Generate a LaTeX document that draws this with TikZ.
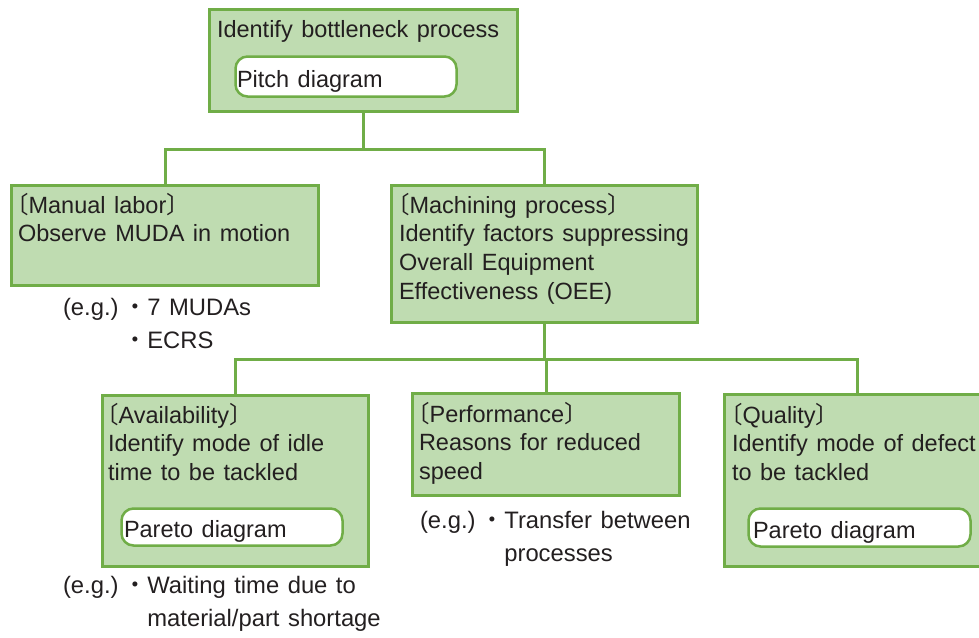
\documentclass[tikz,border=0pt]{standalone}
\usepackage{fontspec}
\setmainfont{Liberation Sans}
\newfontfamily\cjk{Noto Sans CJK JP}
\definecolor{boxfill}{RGB}{191,220,177}
\definecolor{boxline}{RGB}{112,173,71}
\definecolor{inktext}{RGB}{35,31,32}
% full-width brackets and bullet taken from the CJK face
\newcommand\obr{\smash{\cjk\kern-0.55em〔}}
\newcommand\cbr{\smash{\cjk〕}}
\newcommand\egdot{\kern5pt\smash{\cjk ・}}
\newcommand\tstrut{\rule{0pt}{18pt}}
\newskip\widespace
\widespace=8.5pt

\begin{document}
\begin{tikzpicture}[x=1pt,y=-1pt,
  every node/.style={inner sep=0pt, outer sep=0pt},
  stagebox/.style={draw=boxline, fill=boxfill, line width=3pt, anchor=north west},
  toolbox/.style={draw=boxline, fill=white, line width=2.5pt, rounded corners=12pt, anchor=north west},
  boxtext/.style={anchor=north west, align=left, text=inktext, font=\fontsize{23.5}{28.7}\selectfont,
    execute at begin node={\spaceskip=\widespace}},
  egtext/.style={anchor=north west, align=left, text=inktext, font=\fontsize{23.8}{33}\selectfont,
    execute at begin node={\spaceskip=\widespace}},
  linkline/.style={draw=boxline, line width=3pt}]
\useasboundingbox (0,0) rectangle (979,637);

% boxes
\node[stagebox, minimum width=308pt, minimum height=102pt] (top) at (209.5,9.5) {};
\node[toolbox, minimum width=221pt, minimum height=40pt] (pitch) at (235.5,56.5) {};
\node[stagebox, minimum width=307pt, minimum height=100pt] (manual) at (11.5,185.5) {};
\node[stagebox, minimum width=306pt, minimum height=137pt] (mach) at (391.5,185.5) {};
\node[stagebox, minimum width=266pt, minimum height=171pt] (avail) at (102.5,395.5) {};
\node[toolbox, minimum width=221pt, minimum height=37pt] (availtool) at (121.5,508.5) {};
\node[stagebox, minimum width=267pt, minimum height=102pt] (perf) at (412.5,393.5) {};
\node[stagebox, minimum width=266pt, minimum height=172pt] (qual) at (724.5,394.5) {};
\node[toolbox, minimum width=222pt, minimum height=38pt] (qualtool) at (748.5,508.5) {};

% connectors
\coordinate (j1) at (363.5,149);
\coordinate (j2) at (544.5,359);
\draw[linkline] (top.south) -- (j1);
\draw[linkline] (manual.north) |- (j1) -| (mach.north);
\draw[linkline] (mach.south) -- (j2);
\draw[linkline] (avail.north) |- (j2) -| (qual.north);
\draw[linkline] (perf.north) -- (perf.north |- j2);

% texts
\node[boxtext] (toptext) at (217,19) {\tstrut Identify bottleneck process};
\node[boxtext] (pitchtext) at (237,69) {\tstrut Pitch diagram};
\node[boxtext] (manualtext) at (18,195) {\tstrut\obr Manual labor\cbr\\Observe MUDA in motion};
\node[boxtext] (machtext) at (399,195) {\tstrut\obr Machining process\cbr\\Identify factors suppressing\\Overall Equipment\\Effectiveness (OEE)};
\node[boxtext] (availtext) at (108,405) {\tstrut\obr Availability\cbr\\Identify mode of idle\\time to be tackled};
\node[boxtext] (availtooltext) at (124,519) {\tstrut Pareto diagram};
\node[boxtext] (perftext) at (419,404) {\tstrut\obr Performance\cbr\\Reasons for reduced\\speed};
\node[boxtext] (qualtext) at (732,405) {\tstrut\obr Quality\cbr\\Identify mode of defect\\to be tackled};
\node[boxtext] (qualtooltext) at (753,520) {\tstrut Pareto diagram};

% examples
\node[egtext] (manualeg) at (63,297) {\tstrut(e.g.)\egdot 7 MUDAs\\\phantom{(e.g.)}\egdot ECRS};
\node[egtext] (availeg) at (63,575) {\tstrut(e.g.)\egdot Waiting time due to\\\phantom{(e.g.)\egdot}material/part shortage};
\node[egtext] (perfeg) at (420,510) {\tstrut(e.g.)\egdot Transfer between\\\phantom{(e.g.)\egdot}processes};
\end{tikzpicture}
\end{document}
